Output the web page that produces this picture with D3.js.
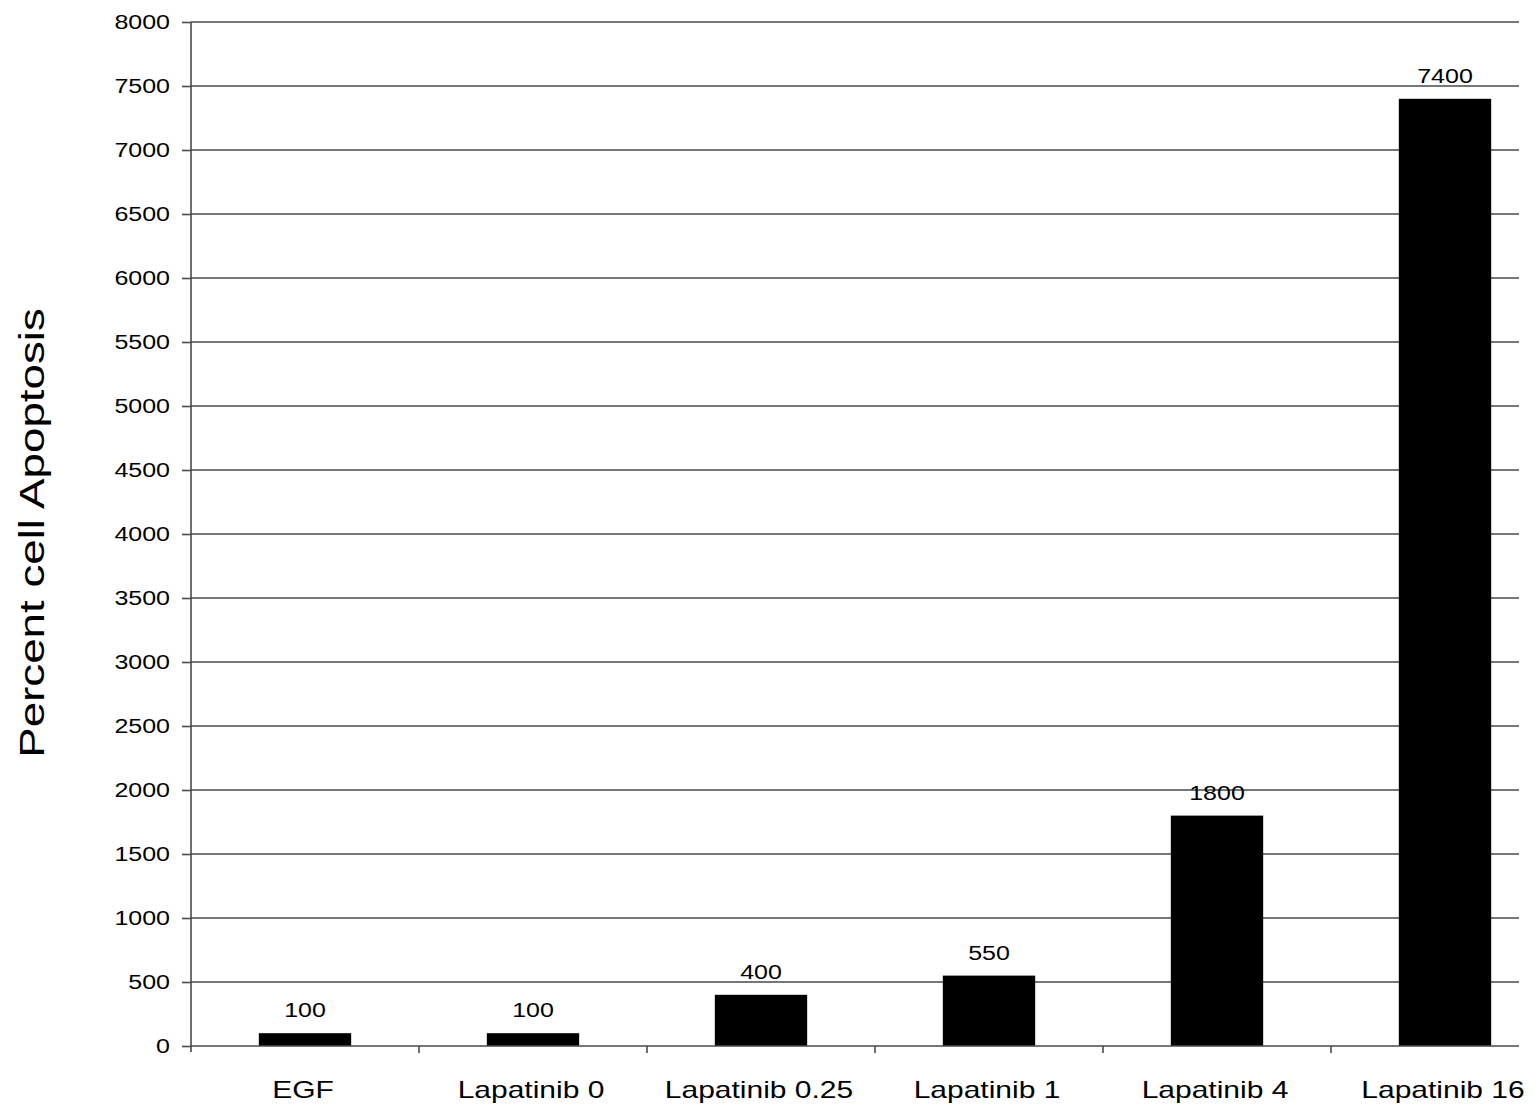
<!DOCTYPE html>
<html><head><meta charset="utf-8">
<script src="https://cdn.jsdelivr.net/npm/d3@7"></script>
<style>body{margin:0;background:#fff}svg{display:block}text{font-family:"Liberation Sans",Arial,sans-serif}</style>
</head><body>
<svg id="c" width="1535" height="1117"></svg>
<script>
const categories = ["EGF","Lapatinib 0","Lapatinib 0.25","Lapatinib 1","Lapatinib 4","Lapatinib 16"];
const values = [100,100,400,550,1800,7400];
const yTicks = [0,500,1000,1500,2000,2500,3000,3500,4000,4500,5000,5500,6000,6500,7000,7500,8000];
const yTitle = "Percent cell Apoptosis";

const svg = d3.select("#c");
const mLeft = 191, mTop = 22, mBottom = 1046, rightClip = 1519;
const sx = 1.25; // horizontal stretch of glyphs in the reference
const x = d3.scaleBand().domain(categories).range([mLeft, mLeft + 228*6]).paddingInner(0.595).paddingOuter(0.2975);
const y = d3.scaleLinear().domain([0,8000]).range([mBottom, mTop]);

// gridlines
svg.append("g").selectAll("line").data(yTicks.filter(d=>d>0)).join("line")
  .attr("x1", mLeft).attr("x2", rightClip).attr("y1", d=>y(d)).attr("y2", d=>y(d))
  .attr("stroke", "#4a4a4a").attr("stroke-width", 1.6);

// y axis
const ya = svg.append("g").attr("transform", `translate(${mLeft},0)`)
  .call(d3.axisLeft(y).tickValues(yTicks).tickSize(9).tickPadding(21).tickFormat(d3.format("d")));
ya.select(".domain").attr("d", `M0,${mTop}V${mBottom+6}`).attr("stroke","#4a4a4a").attr("stroke-width",1.6);
ya.selectAll(".tick line").attr("stroke","#4a4a4a").attr("stroke-width",1.6);
ya.selectAll(".tick text").attr("font-size", 20).attr("fill","#000")
  .attr("font-family","Liberation Sans, Arial, sans-serif")
  .attr("x", -21/sx).attr("transform", `scale(${sx},1)`);

// bars
svg.append("g").selectAll("rect").data(values).join("rect")
  .attr("x", (d,i)=>x(categories[i])).attr("width", x.bandwidth())
  .attr("y", d=>y(d)).attr("height", d=>mBottom - y(d)).attr("fill","#000");

// x axis
svg.append("line").attr("x1", mLeft).attr("x2", rightClip).attr("y1", mBottom).attr("y2", mBottom)
  .attr("stroke","#4a4a4a").attr("stroke-width",1.6);
const xt = d3.range(1,6).map(i => mLeft + x.step()*i);
svg.append("g").selectAll("line").data(xt).join("line")
  .attr("x1", d=>d).attr("x2", d=>d).attr("y1", mBottom).attr("y2", mBottom+7)
  .attr("stroke","#4a4a4a").attr("stroke-width",1.6);
svg.append("g").selectAll("text").data(categories).join("text")
  .attr("transform", d=>`translate(${x(d)+x.bandwidth()/2 - 2},1098) scale(${sx},1)`)
  .attr("text-anchor","middle").attr("font-size", 24).attr("fill","#000")
  .text(d=>d);

// value labels
svg.append("g").selectAll("text").data(values).join("text")
  .attr("transform", (d,i)=>`translate(${x(categories[i])+x.bandwidth()/2},${y(d)-16}) scale(${sx},1)`)
  .attr("text-anchor","middle").attr("font-size", 20).attr("fill","#000")
  .text(d=>d);

// y title
svg.append("text").attr("transform",`translate(44,533) rotate(-90) scale(1.27,1)`)
  .attr("text-anchor","middle").attr("font-size", 36).attr("fill","#000").text(yTitle);
</script>
</body></html>
